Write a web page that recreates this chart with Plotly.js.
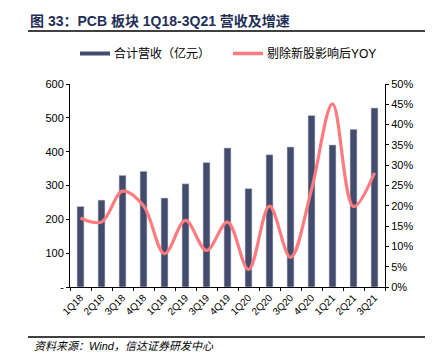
<!DOCTYPE html>
<html>
<head>
<meta charset="utf-8">
<script src="https://cdn.plot.ly/plotly-3.0.1.min.js"></script>
<style>html,body{margin:0;padding:0;background:#fff;}#chart{width:438px;height:354px;}</style>
</head>
<body>
<div id="chart"></div>
<script>
const categories = ['1Q18','2Q18','3Q18','4Q18','1Q19','2Q19','3Q19','4Q19','1Q20','2Q20','3Q20','4Q20','1Q21','2Q21','3Q21'];
const revenue = [238, 257, 330, 342, 263, 305, 368, 411, 291, 391, 414, 507, 420, 466, 529];
const yoy = [0.170, 0.160, 0.236, 0.200, 0.082, 0.164, 0.090, 0.160, 0.043, 0.199, 0.073, 0.240, 0.451, 0.198, 0.281];
const leftTicks = [0, 100, 200, 300, 400, 500, 600];
const leftTickText = ['-', '100', '200', '300', '400', '500', '600'];
const rightTicks = [0, 0.05, 0.10, 0.15, 0.20, 0.25, 0.30, 0.35, 0.40, 0.45, 0.50];
const rightTickText = ['0%','5%','10%','15%','20%','25%','30%','35%','40%','45%','50%'];
const seriesNames = ['合计营收（亿元）', '剔除新股影响后YOY'];
const titleText = '图 33：PCB 板块 1Q18-3Q21 营收及增速';
const sourceText = '资料来源：Wind，信达证券研发中心';

const barColor = '#434c6c';
const lineColor = '#ff7b7f';
const FONT = '"Liberation Sans", Arial, "Noto Sans CJK SC", sans-serif';

// plot area in pixels: x 70..385, y 84..287
const L = 70, R = 385, T = 84, B = 287, W = 438, H = 354;
const px = x => (x - L) / (R - L);
const py = y => (B - y) / (B - T);

const traces = [
  {
    type: 'bar', x: categories, y: revenue, name: seriesNames[0],
    marker: {color: barColor, line: {color: '#c9ccd6', width: 0.6}},
    width: 0.33, yaxis: 'y', showlegend: false, hoverinfo: 'skip'
  },
  {
    type: 'scatter', mode: 'lines', x: categories, y: yoy, name: seriesNames[1],
    line: {color: lineColor, width: 3.2, shape: 'spline', smoothing: 1.0},
    yaxis: 'y2', showlegend: false, hoverinfo: 'skip'
  }
];

const layout = {
  width: W, height: H,
  margin: {l: L, r: W - R, t: T, b: H - B, pad: 0},
  paper_bgcolor: '#ffffff', plot_bgcolor: '#ffffff',
  font: {family: FONT, size: 11, color: '#000'},
  xaxis: {
    type: 'category', range: [-0.5, 14.5],
    tickangle: -45, tickfont: {size: 10, color: '#000'},
    showline: true, linecolor: '#000', linewidth: 1,
    ticks: 'outside', ticklen: 3, tickcolor: '#000', tickson: 'boundaries',
    showgrid: false, zeroline: false
  },
  yaxis: {
    range: [0, 600], tickvals: leftTicks, ticktext: leftTickText,
    tickfont: {size: 11, color: '#000'},
    showline: true, linecolor: '#000', linewidth: 1,
    ticks: 'outside', ticklen: 3, tickcolor: '#000',
    showgrid: false, zeroline: false
  },
  yaxis2: {
    overlaying: 'y', side: 'right', range: [0, 0.5],
    tickvals: rightTicks, ticktext: rightTickText,
    tickfont: {size: 11, color: '#000'},
    showline: true, linecolor: '#000', linewidth: 1,
    ticks: 'outside', ticklen: 3, tickcolor: '#000',
    showgrid: false, zeroline: false
  },
  bargap: 0,
  shapes: [
    // title underline
    {type: 'line', xref: 'paper', yref: 'paper', x0: px(28), x1: px(425), y0: py(31), y1: py(31), line: {color: '#000', width: 1.5}},
    // footer line
    {type: 'line', xref: 'paper', yref: 'paper', x0: px(28), x1: px(425), y0: py(337), y1: py(337), line: {color: '#000', width: 1.5}},
    // legend glyphs
    {type: 'rect', xref: 'paper', yref: 'paper', x0: px(80), x1: px(110), y0: py(55.5), y1: py(51.5), line: {width: 0}, fillcolor: barColor},
    {type: 'line', xref: 'paper', yref: 'paper', x0: px(233), x1: px(263), y0: py(53.5), y1: py(53.5), line: {color: lineColor, width: 3.5}}
  ],
  annotations: [
    {xref: 'paper', yref: 'paper', x: px(28), y: py(21), xanchor: 'left', yanchor: 'middle', showarrow: false,
     text: '<b>' + titleText + '</b>', font: {family: FONT, size: 14, color: '#1f2f57'}},
    {xref: 'paper', yref: 'paper', x: px(112), y: py(53.5), xanchor: 'left', yanchor: 'middle', showarrow: false,
     text: seriesNames[0], font: {family: FONT, size: 12, color: '#000'}},
    {xref: 'paper', yref: 'paper', x: px(265), y: py(53.5), xanchor: 'left', yanchor: 'middle', showarrow: false,
     text: seriesNames[1], font: {family: FONT, size: 12, color: '#000'}},
    {xref: 'paper', yref: 'paper', x: px(32), y: py(346), xanchor: 'left', yanchor: 'middle', showarrow: false,
     text: '<i>' + sourceText + '</i>', font: {family: FONT, size: 11, color: '#000'}}
  ]
};

Plotly.newPlot('chart', traces, layout, {displayModeBar: false, staticPlot: true});
</script>
</body>
</html>
